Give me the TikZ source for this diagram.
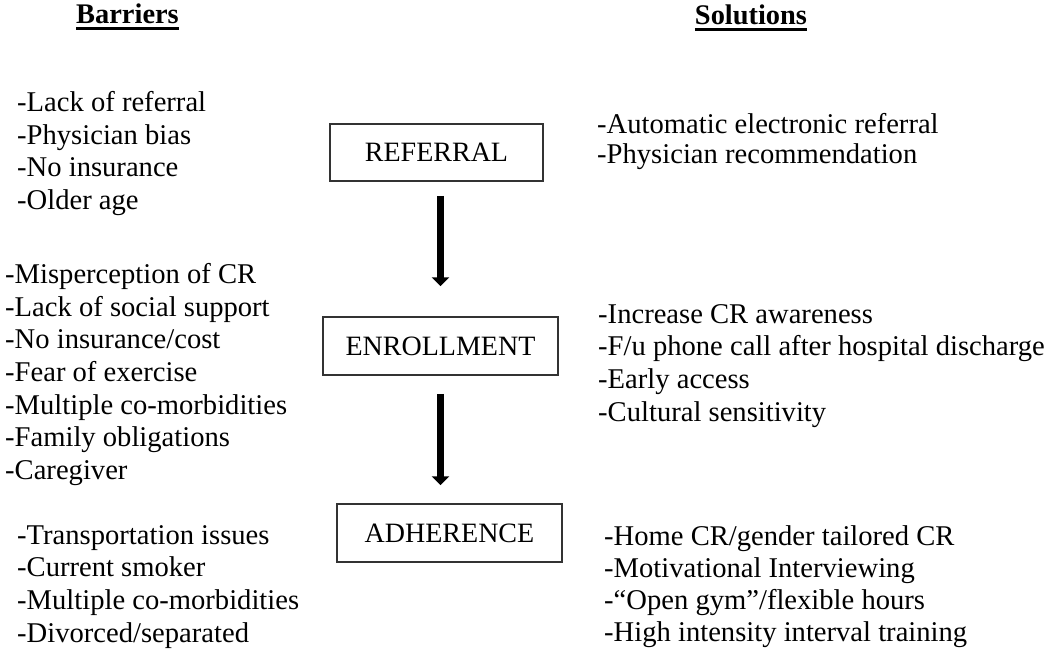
\documentclass[tikz,border=0pt]{standalone}
\usepackage{fontspec}
\setmainfont{Liberation Serif}
\usetikzlibrary{arrows.meta, positioning, calc}
\definecolor{mainBlack}{gray}{0}
\definecolor{boxGray}{gray}{0.2}

\begin{document}
\begin{tikzpicture}[x=1pt, y=-1pt,
    stageBox/.style={draw=boxGray, line width=1.5pt, inner sep=0pt, font=\fontsize{28}{32}\selectfont},
    listText/.style={anchor=north west, align=left, inner sep=0pt, font=\fontsize{28.6}{32.7}\selectfont},
    headText/.style={anchor=base, inner sep=0pt, font=\fontsize{28.4}{32}\selectfont\bfseries},
    flowArrow/.style={draw=mainBlack, line width=7pt, -{Triangle[width=17pt,length=9pt]}},
    uLine/.style={draw=mainBlack, line width=2.5pt}]
    \useasboundingbox (0,0) rectangle (1050,651);

    % headers
    \node[headText] (barHead) at (127.5,23) {Barriers};
    \node[headText] (solHead) at (751,24) {Solutions};
    \draw[uLine] ([yshift=-5.5pt]barHead.base west) -- ([yshift=-5.5pt]barHead.base east);
    \draw[uLine] ([yshift=-5.5pt]solHead.base west) -- ([yshift=-5.5pt]solHead.base east);

    % stages
    \node[stageBox, minimum width=213pt, minimum height=57pt] (ref) at (436.5,152.5) {REFERRAL};
    \node[stageBox, minimum width=235pt, minimum height=58pt] (enr) at (440.5,346) {ENROLLMENT};
    \node[stageBox, minimum width=225pt, minimum height=58pt] (adh) at (449.5,533) {ADHERENCE};
    \draw[flowArrow, shorten <=14pt, shorten >=30pt] (ref.south -| enr) -- (enr.north);
    \draw[flowArrow, shorten <=18pt, shorten >=18pt] (enr.south) -- (enr.south |- adh.north);

    % barriers
    \node[listText] (barRef) at (17,91) {-Lack of referral\\-Physician bias\\-No insurance\\-Older age};
    \node[listText] (barEnr) at (5,263) {-Misperception of CR\\-Lack of social support\\-No insurance/cost\\-Fear of exercise\\-Multiple co-morbidities\\-Family obligations\\-Caregiver};
    \node[listText] (barAdh) at (17,525) {-Transportation issues\\-Current smoker\\-Multiple co-morbidities\\-Divorced/separated};

    % solutions
    \node[listText, font=\fontsize{28.6}{30.5}\selectfont] (solRef) at (597,113) {-Automatic electronic referral\\-Physician recommendation};
    \node[listText] (solEnr) at (598,304) {-Increase CR awareness\\-F/u phone call after hospital discharge\\-Early access\\-Cultural sensitivity};
    \node[listText, font=\fontsize{28.6}{32}\selectfont] (solAdh) at (604,525) {-Home CR/gender tailored CR\\-Motivational Interviewing\\-“Open gym”/flexible hours\\-High intensity interval training};
\end{tikzpicture}
\end{document}
